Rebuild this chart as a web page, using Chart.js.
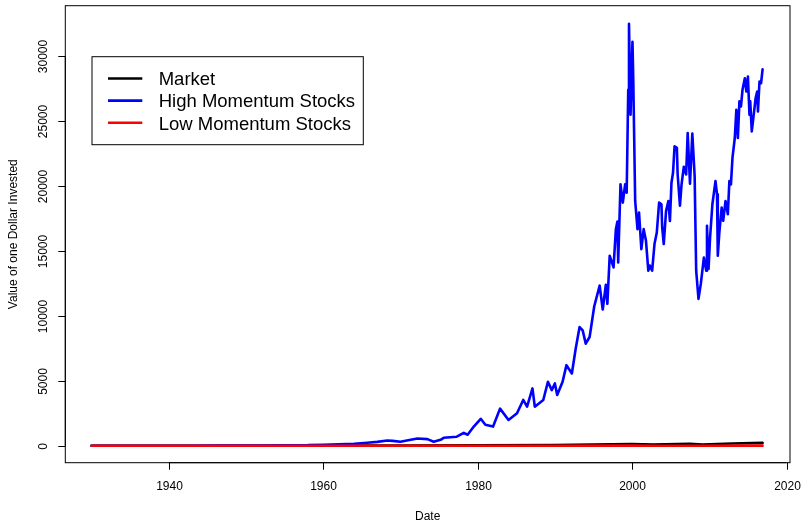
<!DOCTYPE html>
<html>
<head>
<meta charset="utf-8">
<script src="https://cdn.jsdelivr.net/npm/chart.js@4/dist/chart.umd.min.js"></script>
<style>
  html, body { margin: 0; padding: 0; background: #ffffff; }
  #wrap { width: 802px; height: 521px; }
</style>
</head>
<body>
<div id="wrap"><canvas id="c" width="802" height="521"></canvas></div>
<script>
// Growth of one dollar invested, by portfolio (decimal years)
const highYears = [
  1930.0, 1932.5, 1935.0, 1937.0, 1938.0, 1940.0, 1943.0, 1946.0, 1949.0, 1952.0,
  1955.0, 1958.0, 1960.0, 1962.0, 1964.0, 1965.7, 1967.0, 1968.3, 1969.0, 1970.0,
  1971.0, 1972.2, 1973.5, 1974.3, 1975.2, 1975.6, 1977.3, 1978.2, 1978.7, 1979.5,
  1980.4, 1981.0, 1982.0, 1982.9, 1984.0, 1985.1, 1985.9, 1986.4, 1987.1, 1987.4,
  1988.5, 1989.1, 1989.6, 1990.0, 1990.3, 1991.0, 1991.5, 1992.2, 1992.7, 1993.2,
  1993.6, 1994.0, 1994.5, 1995.1, 1995.8, 1996.2, 1996.6, 1996.8, 1997.1, 1997.6,
  1997.9, 1998.1, 1998.2, 1998.5, 1998.8, 1999.1, 1999.3, 1999.5, 1999.6, 1999.8,
  2000.05, 2000.15, 2000.4, 2000.7, 2000.9, 2001.2, 2001.5, 2001.8, 2002.1, 2002.3,
  2002.6, 2002.9, 2003.2, 2003.5, 2003.8, 2003.9, 2004.1, 2004.4, 2004.7, 2004.9,
  2005.1, 2005.3, 2005.5, 2005.8, 2005.9, 2006.2, 2006.4, 2006.7, 2007.0, 2007.2,
  2007.5, 2007.8, 2008.1, 2008.3, 2008.6, 2008.9, 2009.1, 2009.3, 2009.6, 2009.7,
  2009.9, 2010.1, 2010.4, 2010.8, 2011.0, 2011.1, 2011.3, 2011.6, 2011.8, 2012.1,
  2012.4, 2012.6, 2012.8, 2013.0, 2013.3, 2013.5, 2013.7, 2013.9, 2014.1, 2014.3,
  2014.6, 2014.8, 2015.0, 2015.2, 2015.3, 2015.5, 2015.7, 2016.0, 2016.2, 2016.3,
  2016.5, 2016.7, 2016.9
];
const highValues = [
  1, 0.8, 2, 3, 2, 3, 6, 12, 14, 25,
  45, 50, 80, 110, 160, 230, 300, 410, 380, 310,
  420, 560, 510, 310, 460, 615, 700, 1000, 850, 1480,
  2080, 1620, 1480, 2860, 1990, 2500, 3530, 3010, 4420, 3010,
  3530, 4930, 4290, 4800, 3910, 4930, 6210, 5570, 7490, 9150,
  8890, 7870, 8380, 10750, 12340, 10500, 12400, 10940, 14640, 13740,
  16690, 17270, 14130, 20140, 18730, 20140, 19500, 27420, 32500, 25500,
  31120, 28310, 18860, 16690, 17960, 15150, 16690, 15790, 13490, 13880,
  13490, 15540, 16430, 18730, 18610, 16820, 15540, 18090, 18860, 17330,
  20260, 21030, 23070, 22950, 20900, 18500, 20100, 21500, 20900, 24090,
  20200, 24050, 20800, 13490, 11320, 12470, 13490, 14510, 13490, 16940,
  13620, 16050, 18610, 20390, 19370, 14640, 16430, 18350, 17330, 18860,
  17840, 20390, 20140, 22180, 23710, 25890, 23710, 26530, 26140, 27420,
  28310, 27290, 28440, 25500, 26530, 24220, 25240, 26780, 27290, 25760,
  28060, 27930, 29000
];

const marketYears = [1930.0, 1940.0, 1950.0, 1960.0, 1970.0, 1980.0, 1990.0, 1995.0, 2000.0, 2002.7, 2007.5, 2009.1, 2013.0, 2016.9];
const marketValues = [1, 1.5, 3, 10, 18, 30, 60, 90, 140, 100, 150, 100, 180, 220];

const lowYears = [1930.0, 1940.0, 1950.0, 1960.0, 1970.0, 1980.0, 1990.0, 2000.0, 2002.7, 2008.0, 2016.9];
const lowValues = [1, 0.8, 1.5, 2.5, 3, 4, 5, 9, 5, 6, 8];

// Axis settings
const xMin = 1926.6, xMax = 2020.45;
const yMin = -1304, yMax = 33904;
const xTicks = [1940, 1960, 1980, 2000, 2020];
const yTicks = [0, 5000, 10000, 15000, 20000, 25000, 30000];

const seriesNames = ['Market', 'High Momentum Stocks', 'Low Momentum Stocks'];
const seriesColors = ['#000000', '#0000ff', '#ff0000'];

const toPoints = (xs, ys) => xs.map((x, i) => ({ x: x, y: ys[i] }));

const FONT = '"Liberation Sans", Arial, Helvetica, sans-serif';

// Frame, axes, titles and legend drawn in base-graphics style
const basePlot = {
  id: 'basePlot',
  afterDraw(chart) {
    const ctx = chart.ctx;
    const ca = chart.chartArea;
    const xs = chart.scales.x, ys = chart.scales.y;
    ctx.save();
    ctx.strokeStyle = '#000';
    ctx.fillStyle = '#000';
    ctx.lineWidth = 1;

    // plot frame
    ctx.strokeRect(ca.left, ca.top, ca.right - ca.left, ca.bottom - ca.top);

    // x axis
    ctx.font = '12px ' + FONT;
    ctx.textAlign = 'center';
    ctx.textBaseline = 'middle';
    ctx.beginPath();
    ctx.moveTo(xs.getPixelForValue(xTicks[0]), ca.bottom);
    ctx.lineTo(xs.getPixelForValue(xTicks[xTicks.length - 1]), ca.bottom);
    ctx.stroke();
    xTicks.forEach(t => {
      const px = Math.round(xs.getPixelForValue(t)) + 0.5;
      ctx.beginPath();
      ctx.moveTo(px, ca.bottom);
      ctx.lineTo(px, ca.bottom + 7);
      ctx.stroke();
      ctx.fillText(String(t), px, ca.bottom + 23.5);
    });
    ctx.fillText('Date', (ca.left + ca.right) / 2, ca.bottom + 54);

    // y axis
    ctx.beginPath();
    ctx.moveTo(ca.left, ys.getPixelForValue(yTicks[0]));
    ctx.lineTo(ca.left, ys.getPixelForValue(yTicks[yTicks.length - 1]));
    ctx.stroke();
    yTicks.forEach(t => {
      const py = Math.round(ys.getPixelForValue(t)) + 0.5;
      ctx.beginPath();
      ctx.moveTo(ca.left - 7, py);
      ctx.lineTo(ca.left, py);
      ctx.stroke();
      ctx.save();
      ctx.translate(ca.left - 22, py);
      ctx.rotate(-Math.PI / 2);
      ctx.fillText(String(t), 0, 0);
      ctx.restore();
    });
    ctx.save();
    ctx.translate(14, (ca.top + ca.bottom) / 2);
    ctx.rotate(-Math.PI / 2);
    ctx.fillText('Value of one Dollar Invested', 0, 0);
    ctx.restore();

    // legend
    const lx = 92, ly = 56.7, lw = 271.3, lh = 88;
    ctx.fillStyle = '#fff';
    ctx.fillRect(lx, ly, lw, lh);
    ctx.strokeStyle = '#000';
    ctx.strokeRect(lx, ly, lw, lh);
    ctx.font = '18.5px ' + FONT;
    ctx.textAlign = 'left';
    ctx.textBaseline = 'alphabetic';
    seriesNames.forEach((name, i) => {
      const base = 85.3 + i * 22.1;
      const mid = base - 6.8;
      ctx.strokeStyle = seriesColors[i];
      ctx.lineWidth = 2.6;
      ctx.beginPath();
      ctx.moveTo(108, mid);
      ctx.lineTo(142.3, mid);
      ctx.stroke();
      ctx.fillStyle = '#000';
      ctx.fillText(name, 158.7, base);
    });
    ctx.restore();
  }
};

const lineStyle = {
  pointRadius: 0,
  borderWidth: 2.6,
  tension: 0,
  fill: false,
  borderCapStyle: 'round',
  borderJoinStyle: 'round'
};

new Chart(document.getElementById('c'), {
  type: 'line',
  data: {
    datasets: [
      Object.assign({ label: seriesNames[0], data: toPoints(marketYears, marketValues), borderColor: seriesColors[0], order: 2 }, lineStyle),
      Object.assign({ label: seriesNames[1], data: toPoints(highYears, highValues), borderColor: seriesColors[1], order: 1 }, lineStyle),
      Object.assign({ label: seriesNames[2], data: toPoints(lowYears, lowValues), borderColor: seriesColors[2], order: 0 }, lineStyle)
    ]
  },
  options: {
    responsive: false,
    devicePixelRatio: 1,
    animation: false,
    layout: { padding: { left: 65.3, right: 12, top: 5.7, bottom: 58.3 } },
    scales: {
      x: { type: 'linear', min: xMin, max: xMax, display: false },
      y: { type: 'linear', min: yMin, max: yMax, display: false }
    },
    plugins: {
      legend: { display: false },
      tooltip: { enabled: false }
    }
  },
  plugins: [basePlot]
});
</script>
</body>
</html>
